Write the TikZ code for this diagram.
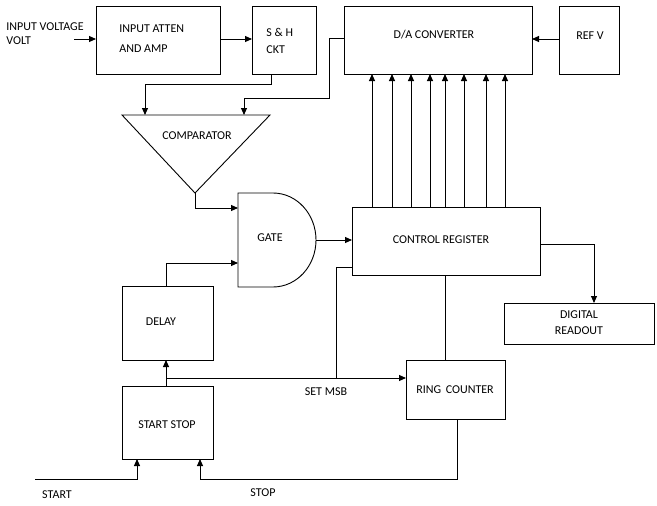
\documentclass[tikz,border=0pt]{standalone}
\usepackage{fontspec}
\setmainfont{Carlito}
\usetikzlibrary{arrows.meta}
\begin{document}
\begin{tikzpicture}[x=1pt,y=-1pt,line width=0.9pt,
  box/.style={draw,rectangle,inner sep=0pt},
  lbl/.style={font=\fontsize{12}{14}\selectfont,inner sep=0pt},
  arr/.style={-{Triangle[length=7pt,width=6pt]}}]
\useasboundingbox (0,0) rectangle (657,506);
\fill[white] (0,0) rectangle (657,506);
% boxes
\draw (96,6) rectangle (220,74); \coordinate (attenL) at (96,39); \coordinate (attenR) at (220,39);
\node[lbl,anchor=west] (t1) at (119,29) {INPUT ATTEN};
\node[lbl,anchor=west] (t2) at (119,49) {AND AMP};
\draw (252,6) rectangle (316,74); \coordinate (shL) at (252,39); \coordinate (shB) at (271,74);
\node[lbl,anchor=west] (t3) at (266,32) {S \& H};
\node[lbl,anchor=west] (t4) at (266,50) {CKT};
\draw (344,6) rectangle (532,74); \coordinate (daL) at (344,38); \coordinate (daR) at (532,39);
\node[lbl] (t5) at (434,35) {D/A CONVERTER};
\draw (559,6) rectangle (619,74); \coordinate (refL) at (559,39);
\node[lbl] (t6) at (590,36) {REF V};
\node[lbl,anchor=west,align=left] (inl) at (6,34) {INPUT VOLTAGE\\VOLT};
\coordinate (inS) at (74,39);
\draw[arr] (inS) -- (attenL);
\draw[arr] (attenR) -- (shL);
\draw[arr] (refL) -- (daR);
% comparator
\coordinate (cA) at (122,115); \coordinate (cB) at (270,115); \coordinate (cC) at (195,193);
\draw (cA) -- (cB) -- (cC) -- cycle;
\node[lbl] (t7) at (197,136) {COMPARATOR};
\draw[arr] (shB) -- (271,84) -- (145,84) -- (145,115);
\draw[arr] (daL) -- (329,38) -- (329,98) -- (244,98) -- (244,115);
% gate
\draw (238,193) -- (273,193) arc[start angle=-90,end angle=90,x radius=43,y radius=47] -- (238,287) -- cycle;
\coordinate (gOut) at (316,240);
\node[lbl] (t8) at (270,238) {GATE};
\draw[arr] (cC) -- (195,208) -- (238,208);
% control register
\draw (352,207) rectangle (540,275);
\node[lbl] (t9) at (441,240) {CONTROL REGISTER};
\draw[arr] (gOut) -- (352,240);
\foreach \x in {372,392,411,430,445,464,486,505}
  \draw[arr] (\x,207) -- (\x,74);
% digital readout
\draw (504,303) rectangle (654,344);
\node[lbl] (t10) at (579,315) {DIGITAL};
\node[lbl] (t11) at (579,331) {READOUT};
\draw[arr] (540,244) -- (594,244) -- (594,303);
% delay
\draw (122,286) rectangle (213,360);
\node[lbl] (t12) at (161,322) {DELAY};
\draw[arr] (166,286) -- (166,263) -- (238,263);
% start stop
\draw (122,386) rectangle (213,459);
\node[lbl] (t13) at (167,425) {START STOP};
\draw[arr] (166,386) -- (166,360);
% ring counter
\draw (406,360) rectangle (505,419);
\node[lbl] (t14) at (455,390) {RING\, COUNTER};
\draw[arr] (166,378) -- (406,378);
\draw (352,267) -- (336,267) -- (336,378);
\draw (445,275) -- (445,360);
\node[lbl] (t15) at (326,392) {SET MSB};
\draw[arr] (457,419) -- (457,479) -- (200,479) -- (200,459);
\draw[arr] (35,479) -- (137,479) -- (137,459);
\node[lbl] (t16) at (57,495) {START};
\node[lbl] (t17) at (263,493) {STOP};
\end{tikzpicture}
\end{document}
